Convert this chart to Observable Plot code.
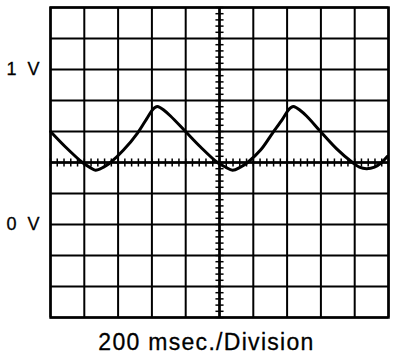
<!DOCTYPE html>
<html>
<head>
<meta charset="utf-8">
<script src="https://cdn.jsdelivr.net/npm/d3@7"></script>
<script src="https://cdn.jsdelivr.net/npm/@observablehq/plot@0.6"></script>
<style>
  html, body { margin: 0; padding: 0; background: #fff; }
  svg { display: block; }
</style>
</head>
<body>
<div id="chart"></div>
<script>
// Time axis (ms): 10 divisions of 200 ms
const timeGrid = [0, 200, 400, 600, 800, 1000, 1200, 1400, 1600, 1800, 2000];
// Voltage axis (V): 10 divisions of 0.2 V
const voltGrid = [-0.6, -0.4, -0.2, 0, 0.2, 0.4, 0.6, 0.8, 1.0, 1.2, 1.4];
// Voltage labels
const voltLabels = ["1 V", "0 V"];
const voltLabelValues = [1, 0];
const caption = "200 msec./Division";

// Traced waveform (time in ms, voltage in V)
const traceTime = [0, 89, 189, 231, 266, 314, 355, 432, 515, 568, 600, 618, 633, 648, 668, 710, 799, 888, 988, 1036, 1077, 1124, 1166, 1243, 1314, 1373, 1405, 1423, 1438, 1453, 1473, 1515, 1598, 1692, 1787, 1828, 1870, 1917, 1959, 1994];
const traceVolt = [0.60, 0.50, 0.40, 0.37, 0.35, 0.37, 0.40, 0.48, 0.59, 0.68, 0.735, 0.755, 0.762, 0.755, 0.74, 0.70, 0.60, 0.50, 0.40, 0.37, 0.35, 0.37, 0.40, 0.48, 0.59, 0.68, 0.735, 0.755, 0.762, 0.755, 0.74, 0.70, 0.60, 0.49, 0.40, 0.37, 0.36, 0.37, 0.40, 0.44];

// Center graticule minor ticks (5 per division)
const centerTime = 1000;
const centerVolt = 0.4;
const minorTimes = d3.range(0, 2001, 40);
const minorVolts = d3.range(-0.6, 1.4001, 0.04);

const trace = traceTime.map((t, i) => ({t, v: traceVolt[i]}));

const chart = Plot.plot({
  width: 416,
  height: 360,
  marginLeft: 50,
  marginRight: 28,
  marginTop: 7,
  marginBottom: 43,
  x: {domain: [0, 2000], axis: null},
  y: {domain: [-0.6, 1.4], axis: null},
  style: {fontFamily: "'Liberation Sans', Arial, sans-serif", background: "#fff"},
  marks: [
    Plot.gridX(timeGrid, {stroke: "#000", strokeOpacity: 1, strokeWidth: 2}),
    Plot.gridY(voltGrid, {stroke: "#000", strokeOpacity: 1, strokeWidth: 2}),
    Plot.ruleX([centerTime], {stroke: "#000", strokeWidth: 2.5}),
    Plot.ruleY([centerVolt], {stroke: "#000", strokeWidth: 2.5}),
    Plot.link(minorVolts, {x1: () => centerTime - 24, x2: () => centerTime + 24, y1: d => d, y2: d => d, stroke: "#000", strokeWidth: 1.5}),
    Plot.link(minorTimes, {x1: d => d, x2: d => d, y1: () => centerVolt - 0.026, y2: () => centerVolt + 0.026, stroke: "#000", strokeWidth: 1.5}),
    Plot.frame({stroke: "#000", strokeWidth: 2.5}),
    Plot.line(trace, {x: "t", y: "v", curve: "catmull-rom", stroke: "#000", strokeWidth: 3}),
    Plot.text(voltLabels, {
      x: () => 0, y: (d, i) => voltLabelValues[i], text: d => d,
      textAnchor: "end", dx: -8, fontSize: 18, fill: "#000",
      stroke: "#000", strokeWidth: 0.3,
      clip: false
    }),
    Plot.text([caption], {
      frameAnchor: "bottom", text: d => d, dy: 25, dx: -13,
      fontSize: 23, fill: "#000", stroke: "#000", strokeWidth: 0.3, lineAnchor: "middle"
    })
  ]
});
d3.select(chart).selectAll("text").filter(function() { return this.textContent.includes(" V"); }).style("letter-spacing", "3px");
d3.select(chart).selectAll("text").filter(function() { return this.textContent.includes("Division"); }).style("letter-spacing", "1.3px");
document.getElementById("chart").appendChild(chart);
</script>
</body>
</html>
